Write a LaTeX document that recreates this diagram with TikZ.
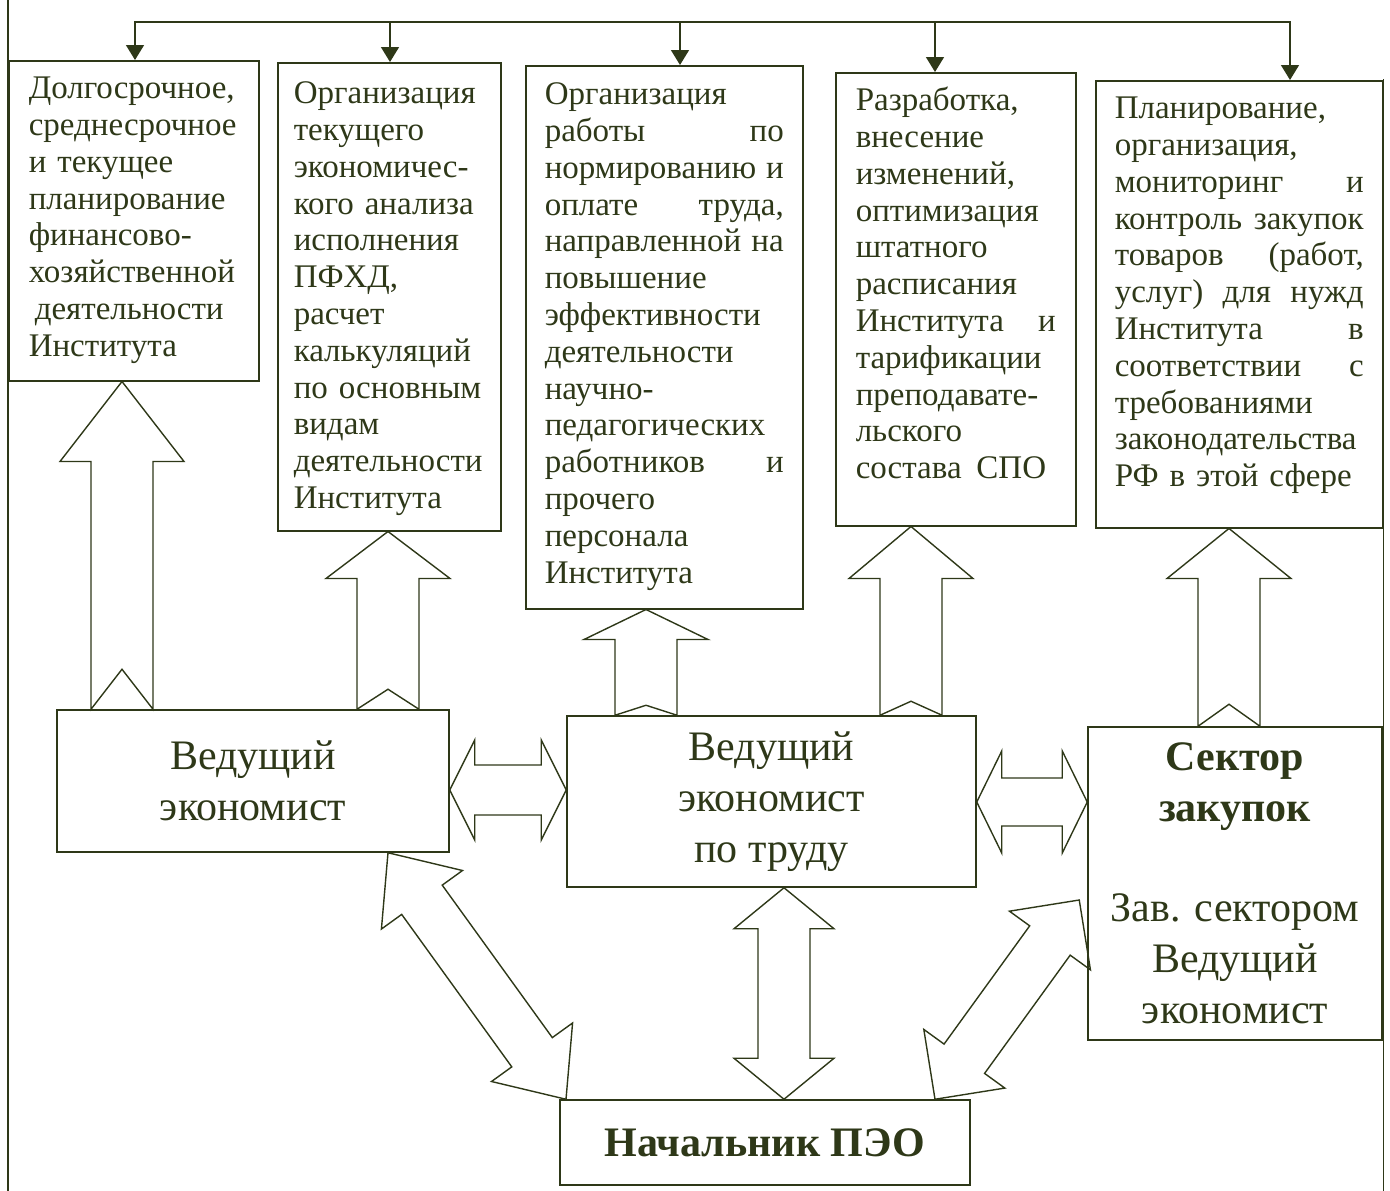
\documentclass[tikz,border=0pt]{standalone}
\usepackage{fontspec}
\setmainfont{Liberation Serif}
\usetikzlibrary{arrows.meta,calc}
\definecolor{ink}{RGB}{46,56,24}
\hyphenpenalty=10000
\tikzset{
    task/.style={draw=ink, text=ink, line width=1.5pt, anchor=north west, inner xsep=20pt, inner ysep=0pt, align=left, font=\fontsize{33}{36.8}\selectfont},
    staff/.style={draw=ink, text=ink, line width=1.5pt, align=center, inner sep=2pt, font=\fontsize{42}{51}\selectfont},
    feed/.style={-{Triangle[length=15pt,width=18pt]}, line width=1.5pt, draw=ink},
    wire/.style={draw=ink, line width=1.5pt, line cap=rect},
    block/.style={draw=ink, line width=1.4pt, line join=miter}
}
\newcommand{\fullline}[1]{\makebox[\hsize][s]{\spaceskip=0.25em plus 1fil\relax #1}}
% hollow arrow with two heads: from, to, head length, head half width, shaft half width
\newcommand{\dblblock}[5]{%
  \draw[block] (#1)
    -- ($(#1)!#3!(#2)!#4!90:(#2)$) -- ($(#1)!#3!(#2)!#5!90:(#2)$)
    -- ($(#2)!#3!(#1)!#5!-90:(#1)$) -- ($(#2)!#3!(#1)!#4!-90:(#1)$)
    -- (#2)
    -- ($(#2)!#3!(#1)!#4!90:(#1)$) -- ($(#2)!#3!(#1)!#5!90:(#1)$)
    -- ($(#1)!#3!(#2)!#5!-90:(#2)$) -- ($(#1)!#3!(#2)!#4!-90:(#2)$)
    -- cycle;}
% hollow arrow with notched tail: tail, tip, head length, head half width, shaft half width, notch
\newcommand{\upblock}[6]{%
  \draw[block] ($(#1)!#5!90:(#2)$) -- ($(#1)!#6!(#2)$) -- ($(#1)!#5!-90:(#2)$)
    -- ($(#2)!#3!(#1)!#5!90:(#1)$) -- ($(#2)!#3!(#1)!#4!90:(#1)$)
    -- (#2)
    -- ($(#2)!#3!(#1)!#4!-90:(#1)$) -- ($(#2)!#3!(#1)!#5!-90:(#1)$)
    -- cycle;}

\begin{document}
\begin{tikzpicture}[x=1pt,y=-1pt]
\useasboundingbox (0,0) rectangle (1390,1191);

% task boxes
\node[task, text width=210pt, text height=38pt, text depth=282pt] (plan) at (8,60) {Долгосрочное,\\среднесрочное\\и текущее\\планирование\\финансово-\\хозяйственной\\\hspace*{6pt}деятельности\\Института};
\node[task, text width=191pt, inner xsep=16pt, text height=41pt, text depth=427pt] (analiz) at (277,62) {Организация\\текущего\\экономичес-\\кого анализа\\исполнения\\ПФХД,\\расчет\\калькуляций\\по основным\\видам\\деятельности\\Института};
\node[task, text width=239pt, inner xsep=19pt, text height=39pt, text depth=504pt] (trud) at (525,65) {Организация\\\fullline{работы по}\\\fullline{нормированию и}\\\fullline{оплате труда,}\\\fullline{направленной на}\\повышение\\эффективности\\деятельности\\научно-\\педагогических\\\fullline{работников и}\\прочего\\персонала\\Института};
\node[task, text width=200pt, text height=38pt, text depth=415pt] (shtat) at (835,72) {Разработка,\\внесение\\изменений,\\оптимизация\\штатного\\расписания\\\fullline{Института и}\\тарификации\\преподавате-\\льского\\состава\hspace{0.45em}СПО};
\node[task, text width=249pt, inner xsep=19pt, text height=38pt, text depth=409pt] (zakup) at (1095,80) {Планирование,\\организация,\\\fullline{мониторинг и}\\\fullline{контроль закупок}\\\fullline{товаров (работ,}\\\fullline{услуг) для нужд}\\\fullline{Института в}\\\fullline{соответствии с}\\требованиями\\законодательства\\РФ в этой сфере};

% staff boxes
\node[staff, minimum width=392pt, minimum height=142pt] (econ) at (253,781) {Ведущий\\экономист};
\node[staff, minimum width=409pt, minimum height=171pt] (trudecon) at (771.5,801.5) {Ведущий\\экономист\\по труду};
\node[staff, minimum width=294pt, minimum height=313pt] (sektor) at (1235,883.5) {\textbf{Сектор}\\\textbf{закупок}\\[49pt]Зав. сектором\\Ведущий\\экономист};
\node[staff, minimum width=410pt, minimum height=85pt, font=\fontsize{42}{50}\selectfont\bfseries] (chief) at (765,1142.5) {Начальник ПЭО};

% frame
\draw[wire] (8,0) -- (8,1191);
\draw[wire] (zakup.north east) -- (zakup.north east |- 0,1191);

% top bus
\coordinate (t1) at (135,22);
\coordinate (t2) at (390,22);
\coordinate (t3) at (680,22);
\coordinate (t4) at (935,22);
\coordinate (t5) at (1290,22);
\draw[wire] (t1) -- (t5);
\foreach \t/\b in {t1/plan,t2/analiz,t3/trud,t4/shtat,t5/zakup}
    \draw[feed] (\t) -- (\t |- \b.north);

% block arrows up
\foreach \src/\dst/\ux/\hl/\nt in {econ/plan/122/80pt/40pt, econ/analiz/388/47pt/20pt, trudecon/trud/646/30pt/10pt, trudecon/shtat/911/52pt/14pt, sektor/zakup/1229/50pt/22pt}{
    \coordinate (foot) at (\src.north -| \ux,0);
    \coordinate (head) at (\dst.south -| \ux,0);
    \upblock{foot}{head}{\hl}{62pt}{31pt}{\nt}
}

% block arrows both ways
\coordinate (h1a) at (econ.east |- 0,790);
\coordinate (h1b) at (trudecon.west |- 0,790);
\coordinate (h2a) at (trudecon.east |- 0,802);
\coordinate (h2b) at (sektor.west |- 0,802);
\coordinate (va) at (trudecon.south -| 784,0);
\coordinate (vb) at (chief.north -| 784,0);
\coordinate (d1a) at (econ.south -| 388,0);
\coordinate (d1b) at (chief.north -| 566,0);
\coordinate (d2a) at ($(sektor.west |- 0,900)+(-8,0)$);
\coordinate (d2b) at (chief.north -| 935,0);
\dblblock{h1a}{h1b}{25pt}{50pt}{25pt}
\dblblock{h2a}{h2b}{25pt}{51pt}{24pt}
\dblblock{va}{vb}{41pt}{50pt}{26pt}
\dblblock{d1a}{d1b}{58pt}{50pt}{25pt}
\dblblock{d2a}{d2b}{50pt}{50pt}{25pt}
\end{tikzpicture}
\end{document}
